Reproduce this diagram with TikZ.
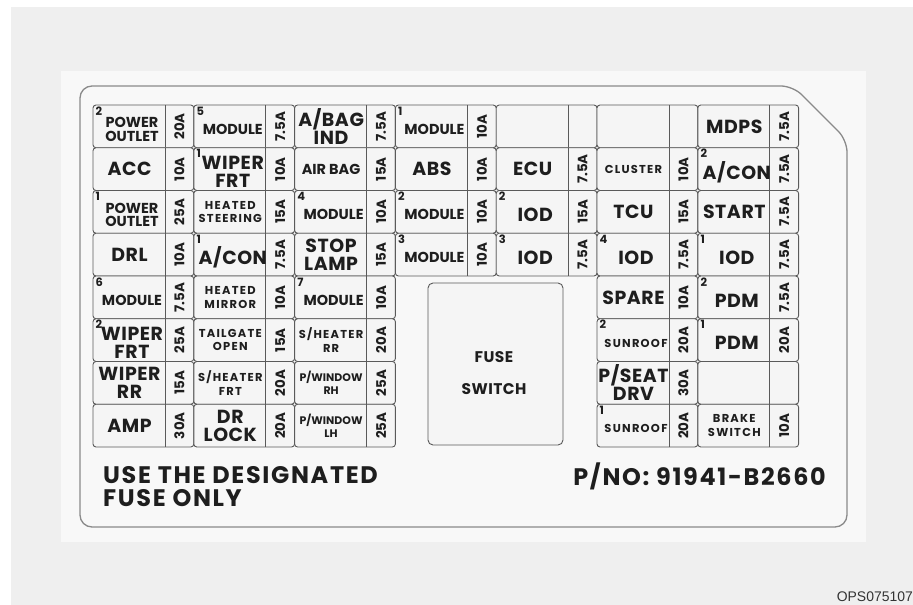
\documentclass[tikz,border=0pt]{standalone}
\usepackage{fontspec}
\usepackage{tikz}
\setmainfont{Poppins}
\newfontfamily\bigfont{Poppins}[LetterSpace=3]
\newfontfamily\smallfont{Poppins}[LetterSpace=11]
\newfontfamily\notefont{Poppins}[LetterSpace=7]
\newfontfamily\codefont{Liberation Sans}
\definecolor{bggray}{HTML}{EFEFEF}
\definecolor{panelwhite}{HTML}{F8F8F8}
\definecolor{fusefill}{HTML}{F5F5F5}
\definecolor{fuseline}{HTML}{5A5A5A}
\definecolor{rimline}{HTML}{8A8A8A}
\definecolor{ink}{HTML}{1E1E1E}
\def\none{-}

\begin{document}
\begin{tikzpicture}[x=1bp, y=-1bp,
  fusebox/.style={draw=fuseline, fill=fusefill, line width=0.9bp, rounded corners=3bp},
  divider/.style={draw=fuseline, line width=0.9bp},
  big/.style={font=\bigfont\fontsize{19}{18}\selectfont\bfseries, text=ink, align=center, inner sep=0pt},
  mid/.style={font=\fontsize{14.5}{13.5}\selectfont\bfseries, text=ink, align=center, inner sep=0pt},
  small/.style={font=\smallfont\fontsize{11.5}{13.5}\selectfont\bfseries, text=ink, align=center, inner sep=0pt},
  narrow/.style={font=\fontsize{11}{13.5}\selectfont\bfseries, text=ink, align=center, inner sep=0pt},
  rating/.style={font=\fontsize{13.5}{14}\selectfont\bfseries, text=ink, rotate=90, inner sep=0pt},
  idxnum/.style={font=\fontsize{11.5}{12}\selectfont\bfseries, text=ink, anchor=north west, inner sep=0pt},
  note/.style={font=\notefont\fontsize{24}{23}\selectfont\bfseries, text=ink, align=left, inner sep=0pt}]
\useasboundingbox (0,0) rectangle (913,605);
\fill[bggray] (11,7) rectangle (913,605);
\fill[panelwhite] (61,71) rectangle (866,542);
\draw[rimline, line width=1.3bp, rounded corners=12bp]
  (80,86) -- (793,86) -- (847,140) -- (847,527) -- (80,527) -- cycle;

% fuse grid: column/row/index/label/rating/text size
\foreach \cc/\rr/\nn/\txt/\amps/\sz in {
  1/1/2/{POWER\\OUTLET}/20A/mid, 1/2/-/ACC/10A/big,
  1/3/1/{POWER\\OUTLET}/25A/mid, 1/4/-/DRL/10A/big,
  1/5/6/MODULE/7.5A/mid, 1/6/2/{WIPER\\FRT}/25A/big,
  1/7/-/{WIPER\\RR}/15A/big, 1/8/-/AMP/30A/big,
  2/1/5/MODULE/7.5A/mid, 2/2/1/{WIPER\\FRT}/10A/big,
  2/3/-/{HEATED\\STEERING}/15A/small, 2/4/1/{A/CON}/7.5A/big,
  2/5/-/{HEATED\\MIRROR}/10A/small, 2/6/-/{TAILGATE\\OPEN}/15A/small,
  2/7/-/{S/HEATER\\FRT}/20A/small, 2/8/-/{DR\\LOCK}/20A/big,
  3/1/-/{A/BAG\\IND}/7.5A/big, 3/2/-/{AIR BAG}/15A/mid,
  3/3/4/MODULE/10A/mid, 3/4/-/{STOP\\LAMP}/15A/big,
  3/5/7/MODULE/10A/mid, 3/6/-/{S/HEATER\\RR}/20A/small,
  3/7/-/{P/WINDOW\\RH}/25A/narrow, 3/8/-/{P/WINDOW\\LH}/25A/narrow,
  4/1/1/MODULE/10A/mid, 4/2/-/ABS/10A/big,
  4/3/2/MODULE/10A/mid, 4/4/3/MODULE/10A/mid,
  5/1/-/-/-/big, 5/2/-/ECU/7.5A/big,
  5/3/2/IOD/15A/big, 5/4/3/IOD/7.5A/big,
  6/1/-/-/-/big, 6/2/-/CLUSTER/10A/small,
  6/3/-/TCU/15A/big, 6/4/4/IOD/7.5A/big,
  6/5/-/SPARE/10A/big, 6/6/2/SUNROOF/20A/small,
  6/7/-/{P/SEAT\\DRV}/30A/big, 6/8/1/SUNROOF/20A/small,
  7/1/-/MDPS/7.5A/big, 7/2/2/{A/CON}/7.5A/big,
  7/3/-/START/7.5A/big, 7/4/1/IOD/7.5A/big,
  7/5/2/PDM/7.5A/big, 7/6/1/PDM/20A/big,
  7/7/-/-/-/big, 7/8/-/{BRAKE\\SWITCH}/10A/small}{
  \pgfmathsetmacro\xl{93+100.8*(\cc-1)}
  \pgfmathsetmacro\yt{105+42.75*(\rr-1)}
  \draw[fusebox] (\xl,\yt) rectangle ++(100.8,42.75);
  \draw[divider] (\xl+72,\yt) -- ++(0,42.75);
  \ifx\nn\none \def\dy{0}\def\dx{0}\else \def\dy{3}\def\dx{2.5}
    \node[idxnum] (idx-\cc-\rr) at (\xl+2.5,\yt+1.5) {\nn};\fi
  \ifx\txt\none\else
    \node[\sz] (lab-\cc-\rr) at (\xl+36.5+\dx,\yt+21.4+\dy) {\txt};
    \node[rating] (amp-\cc-\rr) at (\xl+86.4,\yt+21.4) {\amps};\fi
}

\node[fusebox, rounded corners=5bp, minimum width=135bp, minimum height=162bp] (switch) at (495.5,364) {};
\node[mid, font=\bigfont\fontsize{15.5}{32}\selectfont\bfseries] (switchlbl) at (494,373) {FUSE\\SWITCH};

\node[note, anchor=west] (use) at (103,487) {USE THE DESIGNATED\\FUSE ONLY};
\node[note, anchor=east] (pno) at (826,476) {P/NO: 91941-B2660};
\node[font=\codefont\fontsize{14}{14}\selectfont, text=black!80, anchor=east, inner sep=0pt] (code) at (913,597) {OPS075107};
\end{tikzpicture}
\end{document}
